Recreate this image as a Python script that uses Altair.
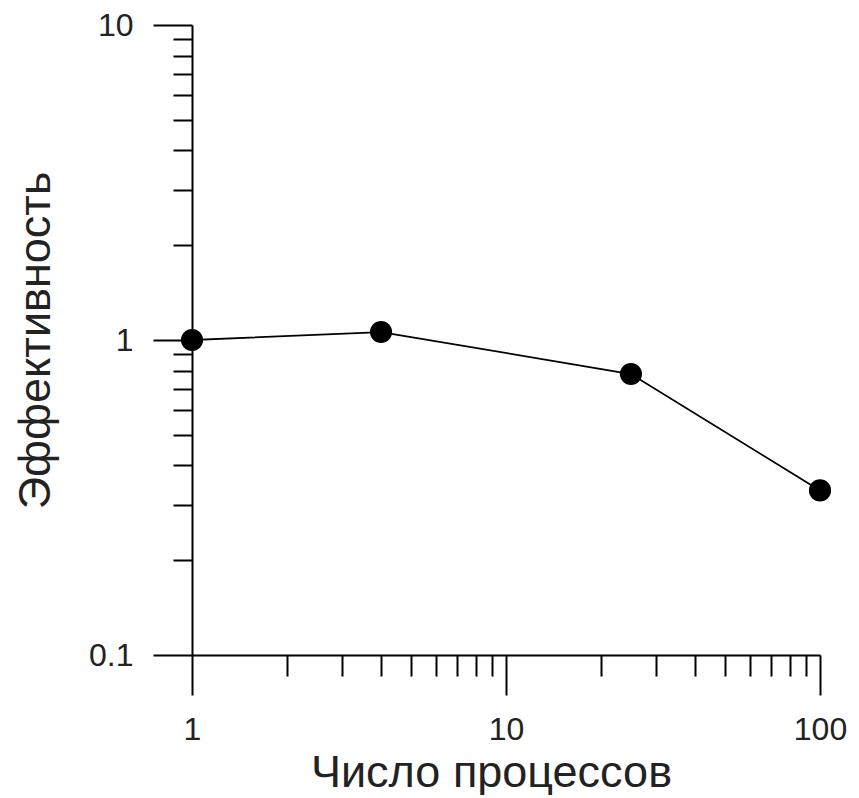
import altair as alt
import pandas as pd

processes = [1, 4, 25, 100]
efficiency = [1.0, 1.06, 0.78, 0.333]

x_ticks = [1, 2, 3, 4, 5, 6, 7, 8, 9, 10, 20, 30, 40, 50, 60, 70, 80, 90, 100]
y_ticks = [0.1, 0.2, 0.3, 0.4, 0.5, 0.6, 0.7, 0.8, 0.9, 1, 2, 3, 4, 5, 6, 7, 8, 9, 10]
x_major = [1, 10, 100]
y_major = [0.1, 1, 10]

df = pd.DataFrame({"p": processes, "e": efficiency})

FONT = "Liberation Sans"
TXT = "#222222"

def is_major(vals):
    return " || ".join(f"abs(datum.value - {v}) < {v}*1e-6" for v in vals)

x_axis = alt.Axis(
    values=x_ticks,
    title="Число процессов",
    titleFont=FONT, titleFontSize=45, titleFontWeight="normal", titleColor=TXT,
    titlePadding=5, titleX=299, titleAlign="center",
    labelFont=FONT, labelFontSize=32, labelColor=TXT,
    labelExpr=f"({is_major(x_major)}) ? format(datum.value, '~g') : ''",
    labelPadding=19, labelFlush=False, labelOverlap=False,
    tickSize={"condition": {"test": is_major(x_major), "value": 40}, "value": 21},
    tickColor="black", tickWidth=2,
    domainColor="black", domainWidth=2,
    grid=False,
)

y_axis = alt.Axis(
    values=y_ticks,
    title="Эффективность",
    titleFont=FONT, titleFontSize=45, titleFontWeight="normal", titleColor=TXT,
    titlePadding=30,
    labelFont=FONT, labelFontSize=32, labelColor=TXT,
    labelExpr=f"({is_major(y_major)}) ? format(datum.value, '~g') : ''",
    labelPadding=20, labelFlush=False, labelOverlap=False,
    tickSize={"condition": {"test": is_major(y_major), "value": 39}, "value": 19},
    tickColor="black", tickWidth=2,
    domainColor="black", domainWidth=2,
    grid=False,
)

x = alt.X("p:Q", scale=alt.Scale(type="log", domain=[1, 100], nice=False), axis=x_axis)
y = alt.Y("e:Q", scale=alt.Scale(type="log", domain=[0.1, 10], nice=False), axis=y_axis)

line = alt.Chart(df).mark_line(color="black", strokeWidth=1.8).encode(x=x, y=y)
pts = alt.Chart(df).mark_point(filled=True, shape="circle", size=490, color="black", opacity=1).encode(x=x, y=y)

chart = (line + pts).properties(
    width=628, height=630,
    autosize=alt.AutoSizeParams(type="none"),
    padding={"left": 184, "top": 17, "right": 30, "bottom": 140},
    background="white",
).configure_view(stroke=None)

chart.save("out.html", embed_options={"renderer": "svg", "actions": False})
